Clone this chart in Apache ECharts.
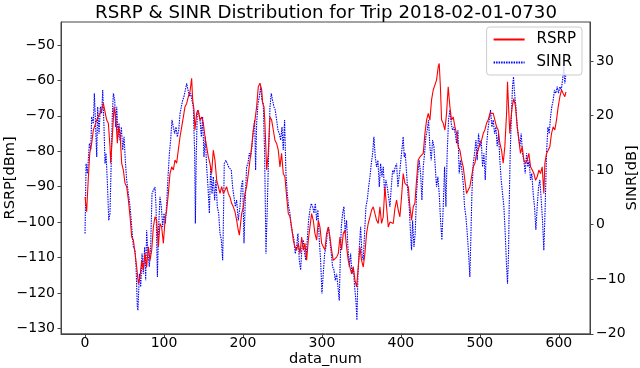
<!DOCTYPE html>
<html><head><meta charset="utf-8">
<script src="https://cdn.jsdelivr.net/npm/echarts@6/dist/echarts.min.js"></script>
<style>html,body{margin:0;padding:0;background:#fff}#c{width:640px;height:368px}</style>
</head><body><div id="c"></div>
<script>
const titleText = 'RSRP & SINR Distribution for Trip 2018-02-01-0730';
const xTicks = [0, 100, 200, 300, 400, 500, 600];
const rsrpTicks = [-130, -120, -110, -100, -90, -80, -70, -60, -50];
const sinrTicks = [-20, -10, 0, 10, 20, 30];

const rsrpX = [0,2,4,6,8.4,10.5,14.8,19,21,23.2,25.3,27.4,29.5,31.6,32.5,35,36.7,39.2,40.9,42.6,44.3,46.4,48.5,50.6,52.7,54.9,57,59.1,61.2,63.3,65.4,67.5,69.6,71.7,73.8,75.9,78,80.2,82.3,84.4,86.5,88.6,90.7,92.8,94.9,97,99.2,101.3,103.4,105.5,107.6,109.7,111.8,113.9,116,118.1,120.3,122.4,124.5,126.6,128.7,130.8,132.9,135,136.3,138,139.2,141.3,143.4,145.6,147.7,149.8,151.9,154,156.1,158.2,160.3,162.4,164.5,166.7,168.8,170.9,173,175.1,177.2,179.3,181.4,183.5,185.6,187.7,189.8,192,194,195.4,198.3,200.4,202.5,204.6,206.8,208.9,211,213.1,215.2,217.3,219.4,221.5,223.7,225,226.6,227.8,230,232,234.2,236.3,238.4,240.5,242.6,244.7,246.8,248.9,251,253.1,255.3,257.4,259.5,261.6,263.7,265.8,267.9,270,272.2,274.3,276.4,278.5,280.6,282.7,284.8,286.9,289,291.1,293.3,295.4,297.5,299.6,301.7,303.8,305.9,308,310.1,312.2,314.3,316.5,318.6,320.7,322.8,324.9,327,329.1,331.2,333.3,335.4,337.6,339.7,341.8,343.9,346,348.1,350.2,352.3,354.4,356.5,358.6,360.8,362.9,365,367.1,369.2,371.3,373.4,375.5,377.6,379.7,381.8,384,386.1,388.2,390.3,392.4,394.5,396.6,398.7,400.8,402.9,405.1,407.2,409.3,411.4,413.5,415.6,417.7,419.8,421.9,424.1,426.2,428.3,430.4,432.5,434.6,436.7,438.8,440.9,443,445.1,447.3,448.5,450,451.5,453.6,455.7,457.8,459.9,462,464.1,466.2,468.4,470.5,472.6,474.7,476.8,478.9,481,483.1,485.2,487.3,489.5,491.6,493.7,495.8,497.9,500,502.1,504.2,506.3,508.4,510.5,512.7,514.8,516.9,519,521.1,523.2,525.3,527.4,529.5,531.6,533.8,535,536.3,537.9,539.2,540.9,543,545.1,547.3,549.4,551.4,553.6,555.7,557.8,559.9,562,564.2,566.3,568.4,570.5,572.6,574.7,576.8,578.9,581,582.3,584.4,586.5,588.6,590.7,592.8,594.9,597,599.2,601.3,603.4,605.5,607.6,609];
const rsrpY = [-92.9,-97.1,-88.2,-80.5,-77.7,-74,-71.2,-69.2,-68.3,-66.5,-66,-71.2,-72.1,-78.7,-83.4,-74,-67.4,-71.2,-77.7,-73.1,-75,-83.4,-85.3,-89,-90,-93.8,-98.5,-104.2,-105.1,-108.8,-112.7,-117.4,-115.5,-110.8,-113.6,-108.8,-112.7,-107,-110.8,-108,-101.4,-98.5,-99.5,-107,-100.4,-101.4,-106,-99.5,-96.6,-91.9,-86.3,-84.4,-85.3,-82.5,-83.4,-79.7,-75.9,-73.1,-70.3,-67.4,-66.5,-64.6,-63.2,-59.4,-65.5,-68.4,-74,-69.3,-68.4,-71.2,-70.3,-72.1,-75.9,-78.7,-81.6,-83.4,-86.3,-79.7,-82.5,-88.2,-90,-91.9,-90,-91.9,-91,-90,-91.9,-92.9,-94.7,-95.7,-97,-99.5,-102.3,-103.7,-97.6,-95.7,-91.9,-90,-86.3,-82.5,-78.7,-74,-71.2,-67.4,-61.8,-60.8,-62.7,-66.5,-67.4,-72.1,-85.3,-80.6,-70.3,-71.2,-74,-76.9,-77.8,-79.7,-84.4,-80.6,-86.3,-87.2,-92.9,-97.6,-98.5,-101.4,-105.1,-107,-107.9,-106,-108.9,-104.2,-107.9,-106,-110.8,-105.1,-101.4,-97.6,-99.5,-103.2,-105.1,-99.5,-101.4,-106,-107,-107.9,-103.2,-101.4,-104.2,-107.9,-110.8,-110.8,-109.9,-108.9,-104.2,-107.9,-103.2,-102.3,-107,-110.8,-112.7,-114.6,-112.7,-116.4,-118.3,-112.7,-107,-110.8,-112.7,-108.9,-103.2,-100.4,-98.5,-96.6,-95.7,-97.6,-99.5,-100.4,-95.7,-100.4,-98.5,-90,-95.7,-101.4,-100,-100.4,-100.4,-96.2,-93.8,-96.6,-98.5,-92.9,-86.3,-89.1,-89.1,-90,-95.7,-99.5,-95.7,-94.7,-88.2,-82.5,-81.6,-81.1,-80.6,-75,-71.2,-69.3,-71.2,-65.5,-62.7,-63.2,-59.9,-56.1,-55.2,-61.8,-71.2,-72.1,-74,-69.3,-61.8,-67.4,-71.2,-70.3,-73.1,-75,-78.7,-79.7,-82.5,-84.4,-88.2,-91.9,-91.9,-90,-87.2,-84.4,-83.4,-80.6,-79.7,-77.8,-76.9,-75,-74,-72.1,-71.2,-69.3,-68.8,-69.3,-71.2,-73.1,-74,-77.8,-79.7,-83.4,-78.7,-69.3,-60.4,-67.4,-75,-71.2,-67.4,-65.1,-67.4,-73.1,-76.9,-80.6,-78.7,-82.5,-83.4,-82.5,-80.6,-84.4,-85.3,-86.3,-88.2,-87.2,-85.3,-86.3,-84.4,-91.9,-83.4,-80.6,-79.7,-78.7,-75,-73.1,-74,-71.2,-67.4,-64.6,-62.7,-63.7,-64.6,-63.2];

const sinrX = [0,1.3,3,5.5,7.2,8.4,10.5,11.8,13.1,14.8,16,17.7,19.4,21.1,22.4,24,25.3,26.6,28.3,30,31.6,32.9,34.6,35.9,37.6,38.8,40.1,41.8,43,44.3,46,47.7,49.4,51,52.7,54.9,57,59.1,61.2,63.3,64.6,66.2,67,68.8,70.5,72.2,73.8,75.5,76.8,78,79.7,81.4,83.1,84.8,86.5,88.6,89.9,91.6,93.2,94.9,96.6,98.3,100,101.7,103.4,105.1,106.8,108.4,110.1,111.8,113.5,115.2,116.9,118.6,120.3,121.9,123.6,125.3,127,128.7,130.4,132.1,133.8,135.4,137.1,138.8,139.7,140.9,142.2,143.9,145.6,147.3,148.9,150.6,152.3,154,155.7,157.4,159.1,160.8,162.4,164.1,165.8,167.5,169.2,170.9,172.6,174.3,175.1,176.3,178.5,180.2,181.8,183.5,185.2,186.9,188.6,190.3,192,194,196.2,197.9,199.6,201.3,202.9,204.6,206.3,208,209.7,211.4,213.1,214.8,216,217.3,219,220.7,222.4,224,225.7,227.4,229.1,230.8,232.5,234.2,235.8,237.5,239.2,240.9,242.6,244.3,246,247.7,249.4,251,252.7,254.4,256.1,257.8,259.5,261.2,262.9,264.6,266.2,267.9,269.6,271.3,273,274.7,276.4,278.1,279.7,281.4,283.1,284.8,286.5,288.2,289.9,291.6,293.3,294.9,296.6,298.3,300,301.7,303.4,305.1,306.8,308.4,310.1,311.8,313.5,315.2,316.9,318.6,320.3,321.9,323.2,324.5,326.2,327.8,329.5,331.2,332.9,334.6,336.3,338,339.7,341.4,343,344.3,345.6,347.3,349,350.6,352.3,354,355.7,357.4,359.1,360.8,362.5,364.2,365.8,367.5,369.2,370.9,372.6,374.3,376,377.7,379.3,381,382.7,384.4,386.1,387.8,389.5,391.1,392.8,394.5,396.2,398.7,400.8,402.9,404.2,405.5,407.2,408.9,410.5,412.2,413.5,414.8,416.5,418.1,419.8,421.5,423.2,424.9,426.6,428.3,430,431.6,433.3,435,436.7,438.4,440.1,441.8,443.5,445.1,446.8,448.5,450.2,451.9,453.6,455.3,457,458.6,460.3,462,463.7,465.4,467.1,468.8,470.5,472.2,473.8,475.5,477.2,478.9,480.6,482.3,484,485.7,487.3,488.6,489.9,491.6,493.3,495,496.6,498.3,500,501.7,503.4,505.1,506.8,508.4,510.1,511.8,513.5,515.2,516.9,518.6,520.3,521.9,523.6,525.3,527,528.7,530.4,532.1,533.8,535,536.3,537.1,538.4,539.7,541.3,542.6,543.9,545.6,547.3,549,550.6,552.3,554,555.7,557.4,559.1,560.8,562.4,564.1,565.8,567.5,569.2,570.9,572.6,574.3,576,577.7,579.3,581,582.7,584.4,586.1,587.8,589.5,591.1,592.8,594.5,596.2,597.9,599.6,601.3,603,604.7,606.3,607.6,609];
const sinrY = [-1.6,11.2,9.4,14.9,13.7,19.8,18.5,24.1,19.2,12.4,21.6,16.7,21.6,20.4,24.7,17.9,11.2,13.1,7.6,0.8,2.1,10,20.4,24.1,22.8,17.9,21.6,16.1,18.6,15.5,17.9,13.7,16.1,11.8,8.2,5.7,3.3,-0.4,-4.1,-4.7,-7.7,-15.1,-15.7,-9,-11.4,-5.3,-9,-4.1,-10.2,-1,-5.3,-7.7,-4.1,5.7,6.3,6.9,3.3,-9.6,-0.4,5.1,3.3,-0.4,2.1,0.2,3.9,8.8,13.1,15.5,19.2,17.9,16.7,17.9,16.1,17.3,20.4,21.6,22.8,23.5,24.7,25.9,24.7,23.5,24.1,22.8,21.6,13.1,0.2,13.1,21,20.4,19.2,16.1,19.8,12.4,16.1,10.6,6.9,2.1,10.6,5.7,8.8,4.5,8.2,3.3,2.1,-1.6,-2.8,-6.5,-0.4,11.2,11.8,11.2,10.6,10.6,10,6.9,5.1,3.3,4.5,0.8,3.3,6.9,8.2,-3.4,4.5,10.6,11.2,13.1,12.4,14.3,17.3,19.2,10,18.6,22.2,23.5,25.3,22.8,22.2,13.1,-5.3,3.3,13.1,21.6,24.1,22.8,21.6,21,19.2,17.3,16.7,15.5,17.9,13.7,19.2,9.4,5.7,3.3,2.1,-0.4,-1.6,-2.8,-5.3,-4.1,-1.6,-6.5,-8.3,-4.1,-2.8,-5.3,-6.5,-2.8,0.8,2.7,3.9,3.3,2.1,3.9,0.8,2.7,-2.8,-6.5,-12.6,-8.9,-5.3,-4.1,-1.6,-0.4,-2.8,-5.3,-7.7,-8.3,-10.2,-9,-11.4,-13.9,-6.5,-0.4,2.1,3.3,-1.6,0.8,-4.1,-7.7,-5.3,-9,-7.7,-11.4,-13.9,-17.5,-9,-4.1,-0.4,-5.3,-6.5,-1.6,3.3,4.5,6.9,8.8,11.2,13.1,16.1,12.4,10.6,11.8,6.9,11.2,8.8,10.6,5.7,8.2,6.9,5.1,3.3,6.9,10,9.4,10.6,11.2,6.9,10,13.1,16.1,12.4,13.1,9.4,5.7,3.3,-1.6,-4.7,0.8,-4.1,-1.6,5.7,9.4,11.8,9.4,4.5,10.6,13.1,16.1,17.3,19.2,14.3,11.8,15.5,14.3,10.6,6.9,8.8,5.7,0.8,-2.8,3.3,10.6,3.3,13.1,19.2,21,18.6,17.3,17.9,16.7,14.9,17.3,9.4,11.8,10,7.6,3.3,1.5,-1.6,-5.3,-9.6,-2.2,5.7,11.2,13.1,15.5,11.8,16.7,14.3,15.5,10.6,13.1,8.2,14.3,17.3,19.2,21,17.9,19.2,16.7,17.9,14.3,16.7,11.8,8.2,5.7,3.3,-1.6,-7.7,-10.8,-5.3,3.3,13.1,19.2,25.3,27.1,24.1,21.6,17.9,16.1,14.3,16.7,13.1,11.8,9.4,13.1,10.6,11.8,8.2,9.4,5.7,3.3,-0.9,3.3,6.9,8.2,4.5,0.8,-4.7,3.3,13.1,17.9,16.7,19.8,21.6,22.8,24.7,24.1,25.3,24.1,25.3,24.7,26.5,29,25.9,27.7];

const FONT = 'DejaVu Sans';
const minus = v => String(v).replace('-', '\u2212');

const chart = echarts.init(document.getElementById('c'), null, {renderer: 'canvas'});
chart.setOption({
  animation: false,
  backgroundColor: '#fff',
  textStyle: {fontFamily: FONT, color: '#000'},
  title: {
    text: titleText, left: 321, top: -1, textAlign: 'center',
    textStyle: {fontFamily: FONT, fontSize: 18.2, fontWeight: 'normal', color: '#000'}
  },
  grid: {left: 61, right: 50, top: 22, bottom: 34.2, show: true, borderColor: '#444', borderWidth: 1,
         backgroundColor: 'transparent', containLabel: false, outerBoundsMode: 'none'},
  legend: {
    orient: 'vertical', right: 58, top: 27,
    padding: [5, 6, 5, 6], itemGap: 8, itemWidth: 31, itemHeight: 14,
    backgroundColor: 'rgba(255,255,255,0.8)', borderColor: '#ccc', borderWidth: 1, borderRadius: 3,
    itemStyle: {opacity: 0},
    textStyle: {fontFamily: FONT, fontSize: 15, color: '#000', padding: [0, 0, 0, 7]},
    data: ['RSRP', 'SINR']
  },
  xAxis: {
    type: 'value', min: -30.45, max: 639.45,
    name: 'data_num', nameLocation: 'middle', nameGap: 18, nameMoveOverlap: false,
    nameTextStyle: {fontFamily: FONT, fontSize: 14.6, color: '#000'},
    splitLine: {show: false},
    axisLine: {show: true, onZero: false, lineStyle: {color: '#444', width: 1}},
    axisTick: {show: true, inside: false, length: 3.5, customValues: xTicks, lineStyle: {color: '#444'}},
    axisLabel: {customValues: xTicks, margin: 3, fontFamily: FONT, fontSize: 14, color: '#000', formatter: minus}
  },
  yAxis: [{
    type: 'value', min: -131.55, max: -43.5, position: 'left',
    name: 'RSRP[dBm]', nameLocation: 'middle', nameGap: 43, nameRotate: 90, nameMoveOverlap: false,
    nameTextStyle: {fontFamily: FONT, fontSize: 14.6, color: '#000'},
    splitLine: {show: false},
    axisLine: {show: true, onZero: false, lineStyle: {color: '#444', width: 1}},
    axisTick: {show: true, inside: false, length: 3.5, customValues: rsrpTicks, lineStyle: {color: '#444'}},
    axisLabel: {customValues: rsrpTicks, margin: 6, fontFamily: FONT, fontSize: 14, color: '#000', formatter: minus}
  }, {
    type: 'value', min: -20, max: 37.16, position: 'right',
    name: 'SINR[dB]', nameLocation: 'middle', nameGap: 35, nameRotate: 90, nameMoveOverlap: false,
    nameTextStyle: {fontFamily: FONT, fontSize: 14.6, color: '#000'},
    splitLine: {show: false},
    axisLine: {show: true, onZero: false, lineStyle: {color: '#444', width: 1}},
    axisTick: {show: true, inside: false, length: 3.5, customValues: sinrTicks, lineStyle: {color: '#444'}},
    axisLabel: {customValues: sinrTicks, margin: 6, fontFamily: FONT, fontSize: 14, color: '#000', formatter: minus}
  }],
  series: [{
    name: 'RSRP', type: 'line', yAxisIndex: 0, symbol: 'none', z: 3,
    lineStyle: {color: '#ff0000', width: 1.1},
    itemStyle: {color: '#ff0000'},
    data: rsrpX.map((x, i) => [x, rsrpY[i]])
  }, {
    name: 'SINR', type: 'line', yAxisIndex: 1, symbol: 'none', z: 2,
    lineStyle: {color: '#0000ff', width: 1.1, type: [1.5, 1]},
    itemStyle: {color: '#0000ff'},
    data: sinrX.map((x, i) => [x, sinrY[i]])
  }]
});
</script></body></html>
